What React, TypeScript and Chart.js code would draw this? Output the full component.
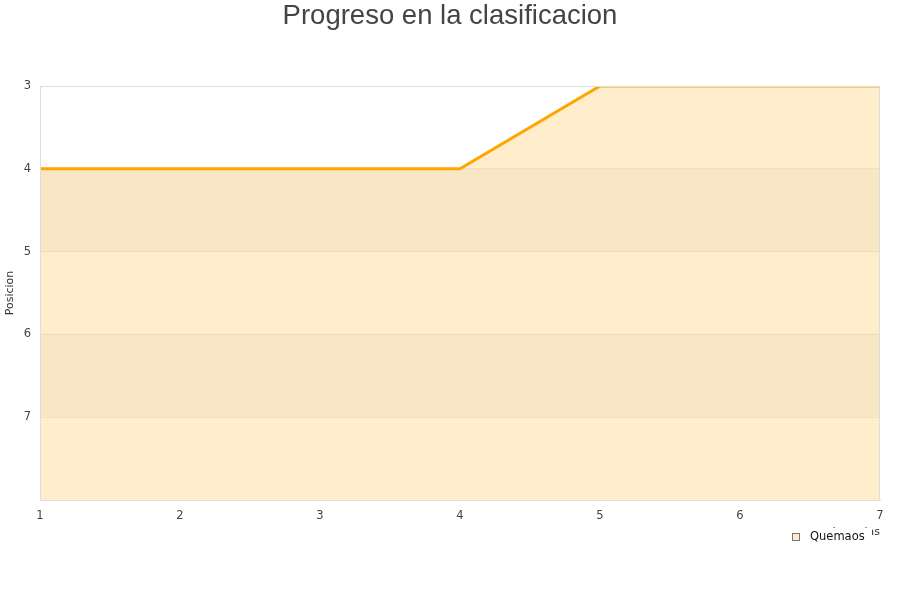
import React, { useEffect, useRef } from "react";
import { Chart, registerables } from "chart.js";

Chart.register(...registerables);

const jornadas = [1, 2, 3, 4, 5, 6, 7];
const posiciones = [4, 4, 4, 4, 3, 3, 3];
const seriesName = "Quemaos";
const chartTitle = "Progreso en la clasificacion";
const xTitle = "Jornadas";
const yTitle = "Posicion";

const ORANGE = "#FFA500";
const FILL = "rgba(255,165,0,0.2)";

// Alternating grey bands between horizontal grid lines
const bandsPlugin = {
  id: "bands",
  beforeDatasetsDraw(chart: any) {
    const { ctx, chartArea, scales } = chart;
    const y = scales.y;
    ctx.save();
    ctx.fillStyle = "rgba(0,0,0,0.035)";
    for (const [a, b] of [[4, 5], [6, 7]]) {
      const ya = y.getPixelForValue(a);
      const yb = y.getPixelForValue(b);
      ctx.fillRect(chartArea.left, Math.min(ya, yb), chartArea.right - chartArea.left, Math.abs(yb - ya));
    }
    ctx.restore();
  },
};

// Title, x-axis title and legend box drawn on top
const overlayPlugin = {
  id: "overlay",
  afterDraw(chart: any) {
    const { ctx, chartArea } = chart;
    ctx.save();
    ctx.fillStyle = "#444";
    ctx.font = '27.5px "Liberation Sans", Arial, sans-serif';
    ctx.textAlign = "center";
    ctx.textBaseline = "middle";
    ctx.fillText(chartTitle, 450, 16);

    ctx.font = '11px "DejaVu Sans", sans-serif';
    ctx.textAlign = "right";
    ctx.textBaseline = "alphabetic";
    ctx.fillStyle = "#333";
    ctx.fillText(xTitle, chartArea.right, 535);

    // legend
    ctx.fillStyle = "#fff";
    ctx.fillRect(782, 528, 90, 22);
    ctx.fillStyle = "#FEEBCB";
    ctx.fillRect(792.5, 533.5, 7, 7);
    ctx.strokeStyle = "#777";
    ctx.lineWidth = 1;
    ctx.strokeRect(792.5, 533.5, 7, 7);
    ctx.fillStyle = "#111";
    ctx.textAlign = "left";
    ctx.textBaseline = "middle";
    ctx.font = '11.5px "DejaVu Sans", sans-serif';
    ctx.fillText(seriesName, 810, 537.5);
    ctx.restore();
  },
};

export default function App() {
  const ref = useRef<HTMLCanvasElement>(null);
  useEffect(() => {
    document.body.style.margin = "0";
    const chart = new Chart(ref.current!, {
      type: "line",
      data: {
        labels: jornadas,
        datasets: [
          {
            label: seriesName,
            data: jornadas.map((x, i) => ({ x, y: posiciones[i] })),
            borderColor: ORANGE,
            backgroundColor: FILL,
            borderWidth: 3,
            pointRadius: 0,
            fill: { value: 8 },
            tension: 0,
          },
        ],
      },
      options: {
        animation: false,
        responsive: false,
        layout: { padding: { top: 86, right: 20, left: 0, bottom: 0 } },
        plugins: { legend: { display: false }, title: { display: false }, tooltip: { enabled: false } },
        scales: {
          x: {
            type: "linear",
            min: 1,
            max: 7,
            ticks: { stepSize: 1, color: "#444", font: { size: 11.5, family: "DejaVu Sans" }, padding: 9 },
            grid: { display: false, drawTicks: false },
            border: { color: "#ddd" },
            afterFit: (s: any) => { s.height = 100; },
          },
          y: {
            type: "linear",
            reverse: true,
            min: 3,
            max: 8,
            ticks: {
              stepSize: 1,
              color: "#444",
              font: { size: 11.5, family: "DejaVu Sans" },
              padding: 9,
              callback: (v: any) => (v === 8 ? "" : v),
            },
            grid: { color: "rgba(0,0,0,0.07)", drawTicks: false },
            border: { color: "#ddd" },
            title: { display: true, text: yTitle, color: "#333", font: { size: 11, family: "DejaVu Sans" }, padding: { top: 4, bottom: 0 } },
            afterFit: (s: any) => { s.width = 40; },
          },
        },
      },
      plugins: [
        bandsPlugin,
        overlayPlugin,
        {
          id: "frame",
          afterDatasetsDraw(chart: any) {
            const { ctx, chartArea } = chart;
            ctx.save();
            ctx.strokeStyle = "#ddd";
            ctx.lineWidth = 1;
            ctx.strokeRect(chartArea.left + 0.5, chartArea.top + 0.5, chartArea.right - chartArea.left - 1, chartArea.bottom - chartArea.top);
            ctx.restore();
          },
        },
      ],
    } as any);
    return () => chart.destroy();
  }, []);
  return (
    <div style={{ width: 900, height: 600 }}>
      <canvas ref={ref} width={900} height={600} />
    </div>
  );
}
